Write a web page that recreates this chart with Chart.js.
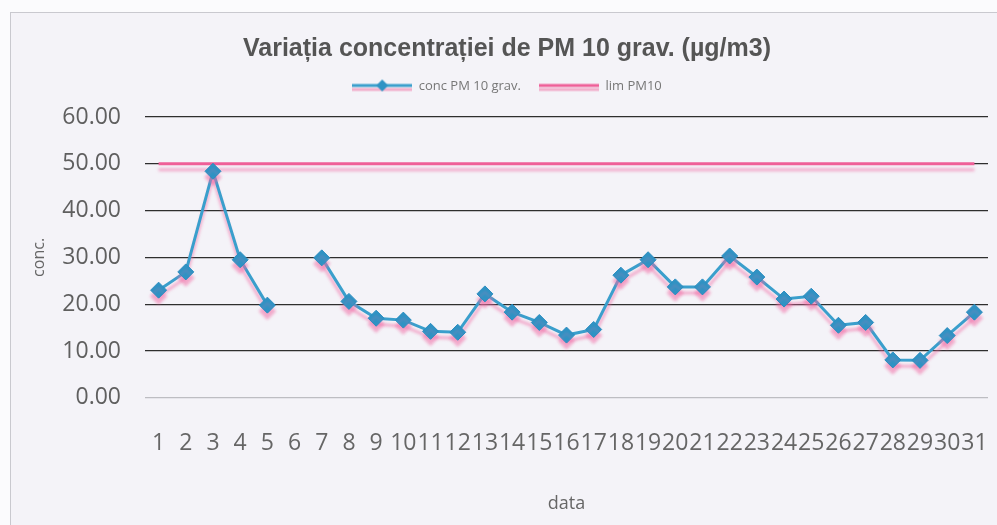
<!DOCTYPE html>
<html>
<head>
<meta charset="utf-8">
<script src="https://cdn.jsdelivr.net/npm/chart.js@4"></script>
<style>
  body { margin: 0; background: #fbfbfd; }
  #frame { position: absolute; left: 10px; top: 12px; width: 1000px; height: 520px;
           border: 1px solid #c9c9cf; background: #f4f3f8; }
  #wrap { position: absolute; left: 0; top: 0; width: 997px; height: 525px; }
</style>
</head>
<body>
<div id="frame"></div>
<div id="wrap"><canvas id="grafico" width="997" height="525"></canvas></div>
<script>
// zilele lunii
const zile = ['1','2','3','4','5','6','7','8','9','10','11','12','13','14','15','16','17','18','19','20','21','22','23','24','25','26','27','28','29','30','31'];
// conc PM 10 grav. (ziua 6 lipsa)
const concPM10 = [23.0, 26.9, 48.4, 29.5, 19.8, null, 29.9, 20.6, 17.0, 16.6, 14.2, 14.0, 22.2, 18.3, 16.1, 13.4, 14.6, 26.2, 29.5, 23.7, 23.7, 30.3, 25.8, 21.1, 21.7, 15.5, 16.1, 8.1, 8.0, 13.3, 18.3];
// valoarea limita
const limPM10 = [50,50,50,50,50,50,50,50,50,50,50,50,50,50,50,50,50,50,50,50,50,50,50,50,50,50,50,50,50,50,50];

const albastru = '#3a9fcc';
const roz = '#ef5f98';

// iconite pentru legenda
function iconita(cuPunct, culoare) {
    const c = document.createElement('canvas');
    c.width = 60; c.height = 16;
    const x = c.getContext('2d');
    x.strokeStyle = 'rgba(240,130,175,0.6)';
    x.lineWidth = 3;
    x.beginPath(); x.moveTo(0, 11); x.lineTo(60, 11); x.stroke();
    x.strokeStyle = culoare;
    x.beginPath(); x.moveTo(0, 7); x.lineTo(60, 7); x.stroke();
    if (cuPunct) {
        x.fillStyle = '#2f93c4';
        x.beginPath(); x.moveTo(30, 1); x.lineTo(36, 7); x.lineTo(30, 13); x.lineTo(24, 7); x.closePath(); x.fill();
    }
    return c;
}

// umbra roz sub linii (ca in scanare)
const umbra = {
    id: 'umbra',
    beforeDatasetsDraw(chart) {
        const ctx = chart.ctx;
        ctx.save();
        ctx.shadowColor = 'rgba(240,110,165,0.55)';
        ctx.shadowOffsetY = 6;
        ctx.shadowBlur = 3;
    },
    afterDatasetsDraw(chart) { chart.ctx.restore(); }
};

// spatiu gol intre legenda si grafic
const spatiu = {
    id: 'spatiu',
    beforeInit(chart) {
        Chart.layouts.addBox(chart, {
            position: 'top', weight: 0, fullSize: true, options: {},
            isHorizontal() { return true; },
            update(w) { this.width = w; this.height = 14; },
            draw() {}
        });
    }
};

const ctx = document.getElementById('grafico').getContext('2d');
const chart = new Chart(ctx, {
    type: 'line',
    data: {
        labels: zile,
        datasets: [
            { label: 'conc PM 10 grav.', data: concPM10, borderColor: albastru, borderWidth: 3,
              pointStyle: 'rectRot', pointRadius: 8, pointBackgroundColor: '#2f93c4', pointBorderColor: '#2b8cbf',
              pointBorderWidth: 1, spanGaps: false, tension: 0 },
            { label: 'lim PM10', data: limPM10, borderColor: roz, borderWidth: 3, pointRadius: 0, tension: 0 }
        ]
    },
    options: {
        responsive: false,
        animation: false,
        layout: { padding: { left: 10, right: -7, top: 0, bottom: 5 } },
        plugins: {
            title: { display: true, text: 'Variația concentrației de PM 10 grav. (µg/m3)', color: '#555555',
                     font: { family: 'Liberation Sans', size: 25, weight: 'bold', lineHeight: 1 }, padding: { top: 37, bottom: 0 } },
            legend: {
                labels: {
                    color: '#777777', font: { family: 'Open Sans', size: 13 }, usePointStyle: true, pointStyleWidth: 60,
                    padding: 18,
                    generateLabels: c => c.data.datasets.map((d, i) => ({
                        text: d.label, fontColor: '#777777', datasetIndex: i,
                        pointStyle: iconita(i === 0, i === 0 ? albastru : roz)
                    }))
                }
            },
            tooltip: { enabled: false }
        },
        scales: {
            x: {
                offset: true,
                grid: { display: true, drawOnChartArea: false, drawTicks: true, tickLength: 32, tickColor: 'transparent' },
                border: { display: false },
                ticks: { color: '#666666', font: { family: 'Open Sans', size: 23 }, padding: 0, autoSkip: false, maxRotation: 0 },
                title: { display: true, text: 'data', color: '#666666', font: { family: 'Open Sans', size: 18 }, padding: { top: 36, bottom: 5 } }
            },
            y: {
                min: 0, max: 60,
                afterFit: s => { s.width = 135; },
                grid: { color: c => c.tick.value === 0 ? '#bdbdc2' : '#2e2e2e', lineWidth: 1.3, drawTicks: true, tickLength: 22, tickColor: 'transparent' },
                border: { display: false },
                ticks: { stepSize: 10, color: '#5f5f5f', padding: 2, font: { family: 'Open Sans', size: 23 },
                         callback: v => v.toFixed(2) },
                title: { display: true, text: 'conc.', color: '#666666', font: { family: 'Open Sans', size: 16 }, padding: { top: 20, bottom: 0 } }
            }
        }
    },
    plugins: [umbra, spatiu]
});
</script>
</body>
</html>
